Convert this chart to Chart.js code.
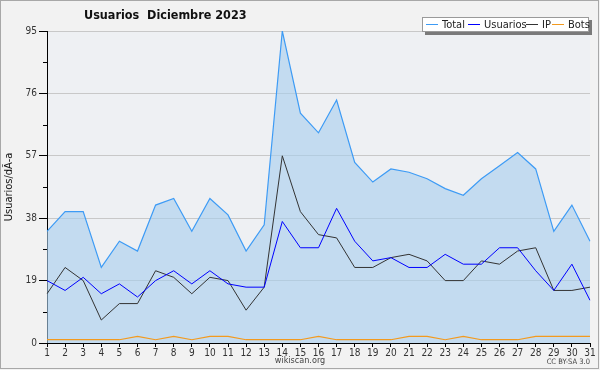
<!DOCTYPE html>
<html><head><meta charset="utf-8">
<script src="https://cdn.jsdelivr.net/npm/chart.js@4.4.0/dist/chart.umd.min.js"></script>
<style>html,body{margin:0;padding:0;background:#f2f2f2;overflow:hidden}</style>
</head><body>
<canvas id="c" width="600" height="370"></canvas>
<script>
const days = ["1","2","3","4","5","6","7","8","9","10","11","12","13","14","15","16","17","18","19","20","21","22","23","24","25","26","27","28","29","30","31"];
const total = [34,40,40,23,31,28,42,44,34,44,39,28,36,95,70,64,74,55,49,53,52,50,47,45,50,54,58,53,34,42,31];
const usuarios = [19,16,20,15,18,14,19,22,18,22,18,17,17,37,29,29,41,31,25,26,23,23,27,24,24,29,29,22,16,24,13];
const ip = [15,23,19,7,12,12,22,20,15,20,19,10,17,57,40,33,32,23,23,26,27,25,19,19,25,24,28,29,16,16,17];
const bots = [1,1,1,1,1,2,1,2,1,2,2,1,1,1,1,2,1,1,1,1,2,2,1,2,1,1,1,2,2,2,2];
const yMajor = [0,19,38,57,76,95];
const seriesNames = ["Total","Usuarios","IP","Bots"];
const seriesColors = ["#3d9bf5","#0000ff","#333333","#f39a1e"];
const titleText = "Usuarios  Diciembre 2023";
const yTitle = "Usuarios/dÃ-a";
const FONT = "'DejaVu Sans Condensed', 'DejaVu Sans', sans-serif";

const isMajor = v => yMajor.some(m => Math.abs(m - v) < 0.01);

const deco = {
  id: 'deco',
  beforeDraw(chart) {
    const {ctx, chartArea: a} = chart;
    ctx.save();
    ctx.fillStyle = '#f2f2f2';
    ctx.fillRect(0, 0, chart.width, chart.height);
    ctx.fillStyle = '#eef0f3';
    ctx.fillRect(a.left, a.top, a.right - a.left, a.bottom - a.top);
    ctx.restore();
  },
  afterDraw(chart) {
    const {ctx, chartArea: a} = chart;
    const ys = chart.scales.y;
    ctx.save();
    ctx.strokeStyle = '#000'; ctx.lineWidth = 1;
    for (let i = 0; i < yMajor.length - 1; i++) {
      const v = (yMajor[i] + yMajor[i+1]) / 2;
      const py = Math.round(ys.getPixelForValue(v)) + 0.5;
      ctx.beginPath(); ctx.moveTo(a.left - 4, py); ctx.lineTo(a.left, py); ctx.stroke();
    }
    ctx.fillStyle = '#111';
    ctx.font = "bold 12.5px " + FONT;
    ctx.textBaseline = 'middle'; ctx.textAlign = 'left';
    ctx.fillText(titleText, 84, 16);
    ctx.save();
    ctx.translate(9, 187); ctx.rotate(-Math.PI/2);
    ctx.font = "11px " + FONT; ctx.textAlign = 'center'; ctx.fillStyle = '#111';
    ctx.fillText(yTitle, 0, 0);
    ctx.restore();
    const lx = 422, ly = 17, lw = 167, lh = 15;
    ctx.fillStyle = '#7a7a7a';
    ctx.fillRect(lx + 3, ly + 3, lw, lh);
    ctx.fillStyle = '#fff';
    ctx.fillRect(lx, ly, lw, lh);
    ctx.strokeStyle = '#9a9a9a';
    ctx.strokeRect(lx + 0.5, ly + 0.5, lw - 1, lh - 1);
    ctx.font = "11px " + FONT; ctx.textBaseline = 'middle';
    const items = [[426,442],[468,484],[526,542],[552,568]];
    seriesNames.forEach((n, i) => {
      const [x0, tx] = items[i];
      ctx.strokeStyle = seriesColors[i]; ctx.lineWidth = 1;
      ctx.beginPath(); ctx.moveTo(x0, ly + 7.5); ctx.lineTo(x0 + 12, ly + 7.5); ctx.stroke();
      ctx.fillStyle = '#222';
      ctx.fillText(n, tx, ly + 8);
    });
    ctx.fillStyle = '#444';
    ctx.font = "9px " + FONT; ctx.textAlign = 'center';
    ctx.fillText("wikiscan.org", 300, 361);
    ctx.font = "7.5px " + FONT; ctx.textAlign = 'right';
    ctx.fillText("CC BY-SA 3.0", 590, 362);
    ctx.strokeStyle = '#a8a8a8';
    ctx.strokeRect(0.5, 0.5, chart.width - 2, chart.height - 2);
    ctx.restore();
  }
};

new Chart(document.getElementById('c'), {
  type: 'line',
  data: {
    labels: days,
    datasets: [
      {label: seriesNames[0], data: total, borderColor: seriesColors[0], backgroundColor: 'rgba(168,207,238,0.62)', fill: 'origin', borderWidth: 1.2, pointRadius: 0, tension: 0, order: 4},
      {label: seriesNames[1], data: usuarios, borderColor: seriesColors[1], borderWidth: 1, pointRadius: 0, tension: 0, fill: false, order: 2},
      {label: seriesNames[2], data: ip, borderColor: seriesColors[2], borderWidth: 1, pointRadius: 0, tension: 0, fill: false, order: 3},
      {label: seriesNames[3], data: bots, borderColor: seriesColors[3], borderWidth: 1.2, pointRadius: 0, tension: 0, fill: false, order: 1}
    ]
  },
  options: {
    responsive: false, animation: false, devicePixelRatio: 1,
    layout: {padding: {left: 0, right: 10, top: 31, bottom: 0}},
    plugins: {legend: {display: false}, tooltip: {enabled: false}, title: {display: false}},
    scales: {
      x: {
        offset: false,
        grid: {display: true, drawOnChartArea: false, drawTicks: true, tickLength: 4, tickColor: '#000'},
        border: {display: true, color: '#000', width: 1},
        ticks: {autoSkip: false, maxRotation: 0, padding: 0, color: '#333', font: {family: FONT, size: 10}},
        afterFit: s => { s.height = 27; }
      },
      y: {
        min: 0, max: 95,
        grid: {
          drawTicks: true, tickLength: 8,
          color: c => (c.tick && isMajor(c.tick.value) && c.tick.value > 0) ? '#c8c8c8' : 'rgba(0,0,0,0)',
          tickColor: c => (c.tick && isMajor(c.tick.value)) ? '#000' : 'rgba(0,0,0,0)'
        },
        border: {display: true, color: '#000', width: 1},
        ticks: {
          stepSize: 9.5, padding: 2, color: '#333', font: {family: FONT, size: 10},
          callback: v => isMajor(v) ? String(Math.round(v)) : ''
        },
        afterFit: s => { s.width = 47; }
      }
    }
  },
  plugins: [deco]
});
</script>
</body></html>
